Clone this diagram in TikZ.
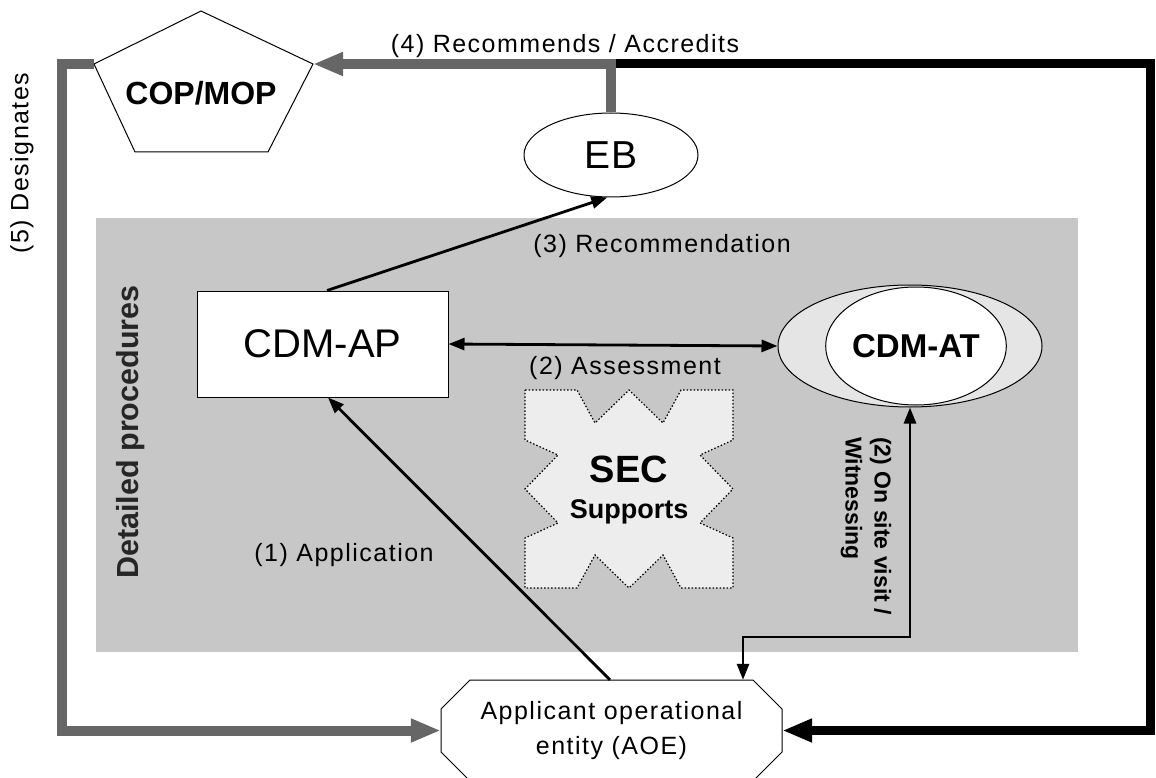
\documentclass[tikz,border=0pt]{standalone}
\usepackage{fontspec}
\setmainfont{Liberation Sans}
\newfontfamily\lblfont{Liberation Sans}[LetterSpace=6]
\usetikzlibrary{arrows.meta,shapes.geometric}
\newcommand\myfs[2]{\fontsize{#1}{#2}\selectfont}
\begin{document}
\begin{tikzpicture}[x=1pt,y=-1pt,
  lbl/.style={font=\lblfont\myfs{25}{30}, inner sep=0pt, anchor=base},
  conn/.style={line width=2.8pt, draw=black, -{Triangle[length=16pt,width=12pt]}},
  dconn/.style={line width=2.8pt, draw=black, {Triangle[length=16pt,width=12pt]}-{Triangle[length=16pt,width=12pt]}},
  thickgray/.style={line width=10pt, draw=black!60, line join=miter, -{Triangle[length=30pt,width=22pt]}},
  thickblack/.style={line width=9pt, draw=black, line join=miter, -{Triangle[length=30pt,width=22pt]}},
  outline/.style={draw=black, line width=1pt, fill=white},
]
\useasboundingbox (0,0) rectangle (1156,778);
\clip (0,0) rectangle (1156,778);
% detailed procedures panel
\fill[black!22] (96,218) rectangle (1078,652);
% SEC shape
\filldraw[fill=black!7, draw=black, line width=1.2pt, dash pattern=on 1.5pt off 2pt]
  (525,390) -- (577,390) -- (595,423) -- (629,390) -- (663,423) -- (681,390) -- (733,390)
  -- (733,440) -- (700,455) -- (733,489) -- (700,523) -- (733,538) -- (733,588)
  -- (681,588) -- (663,555) -- (629,588) -- (595,555) -- (577,588) -- (525,588)
  -- (525,538) -- (558,523) -- (525,489) -- (558,455) -- (525,440) -- cycle;
\node[font=\bfseries\myfs{38}{40}, inner sep=0, anchor=base] (sec) at (629,482) {SEC};
\node[font=\bfseries\myfs{27}{30}, inner sep=0, anchor=base] (secsub) at (629,518) {Supports};
% COP/MOP pentagon
\filldraw[outline] (201,11) coordinate (copT) -- (313,64) coordinate (copR) -- (268,152)
  -- (135,152) -- (94,64) coordinate (copL) -- cycle;
\node[font=\bfseries\myfs{32}{34}, inner sep=0, anchor=base] (cop) at (201,105) {COP/MOP};
% AOE octagon
\filldraw[outline] (470,680) -- (753,680) -- (782,709) -- (782,752) -- (753,781)
  -- (470,781) -- (441,752) -- (441,709) -- cycle;
\node[minimum width=341pt, minimum height=101pt, inner sep=0, align=center,
  font=\lblfont\myfs{25}{35}] (aoe) at (611.5,730.5) {Applicant operational\\entity (AOE)};
% EB
\node[outline, ellipse, minimum width=174pt, minimum height=84pt, inner sep=0,
  font=\myfs{39}{40}] (eb) at (611,155) {EB};
% CDM-AP
\node[outline, minimum width=251pt, minimum height=106pt, inner sep=0,
  font=\myfs{40}{42}] (cdmap) at (322.5,344) {CDM-AP};
% CDM-AT
\node[draw=black, line width=1pt, fill=black!10, ellipse, minimum width=264pt,
  minimum height=122pt, inner sep=0] (cdmat) at (910,346) {};
\node[outline, ellipse, minimum width=158pt, minimum height=118pt, inner sep=0,
  font=\bfseries\myfs{33}{35}] (cdmatin) at (916,346) {CDM-AT};
% thick connectors
\draw[thickblack] (611,64) -- (1150,64) -- (1150,730.5) -- (aoe.east);
\draw[thickgray] (eb.north) -- (eb.north |- copR) -- (copR);
\draw[thickgray] (copL) -- (62,64) -- (62,730.5) -- (aoe.west);
% thin connectors
\draw[conn] ([xshift=4.5pt]cdmap.north) -- (eb.-95);
\draw[dconn] (cdmap.east) -- (cdmat.west);
\draw[conn] ([xshift=-1.5pt]aoe.north) -- ([xshift=5.5pt]cdmap.south);
\draw[dconn] (cdmat.south) -- (910,637) -- (743,637) -- ([xshift=131.5pt]aoe.north);
% labels
\node[lbl] (l4) at (565,53) {(4) Recommends / Accredits};
\node[lbl] (l3) at (662,252) {(3) Recommendation};
\node[lbl] (l2) at (625,374) {(2) Assessment};
\node[lbl] (l1) at (344,561) {(1) Application};
\node[lbl, anchor=center, rotate=90] (l5) at (22,163) {(5) Designates};
\node[font=\bfseries\myfs{30.5}{32}, text=black!85, rotate=90, inner sep=0] (dp) at (131,432) {Detailed procedures};
\node[font=\bfseries\myfs{23}{29}, rotate=-90, anchor=west, align=left, inner sep=0] (l2b)
  at (866,437) {(2) On site visit /\\Witnessing};
\end{tikzpicture}
\end{document}
